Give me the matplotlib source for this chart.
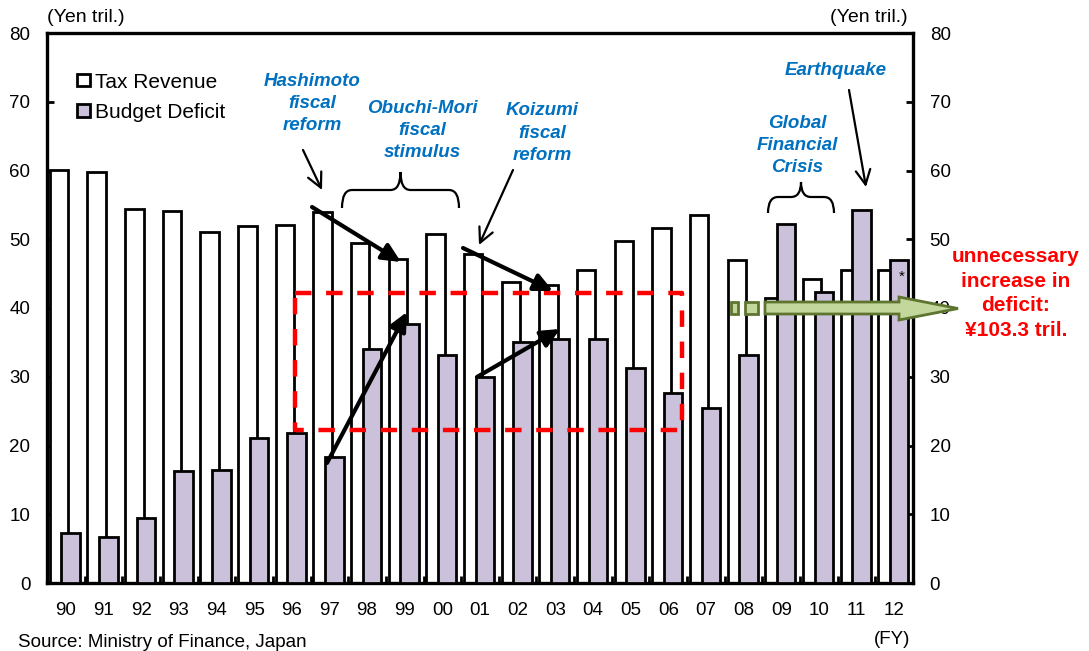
import matplotlib
matplotlib.use('Agg')
import matplotlib.pyplot as plt
import numpy as np
import matplotlib.transforms as mtrans
from matplotlib.patches import Rectangle, Polygon, PathPatch
from matplotlib.path import Path
from matplotlib.lines import Line2D

plt.rcParams['font.family'] = ['Liberation Sans', 'DejaVu Sans']

# ---------------- data ----------------
years = ['90', '91', '92', '93', '94', '95', '96', '97', '98', '99', '00', '01',
         '02', '03', '04', '05', '06', '07', '08', '09', '10', '11', '12']
tax_revenue = [60.1, 59.8, 54.4, 54.1, 51.0, 51.9, 52.1, 53.9, 49.4, 47.2, 50.7, 47.9,
               43.8, 43.3, 45.6, 49.7, 51.7, 53.6, 47.0, 41.5, 44.2, 45.5, 45.5]
budget_deficit = [7.3, 6.7, 9.4, 16.3, 16.4, 21.1, 21.8, 18.4, 34.0, 37.7, 33.1, 29.9,
                  35.0, 35.5, 35.5, 31.3, 27.6, 25.5, 33.1, 52.2, 42.3, 54.3, 47.0]
y_ticks = [0, 10, 20, 30, 40, 50, 60, 70, 80]
series_names = ['Tax Revenue', 'Budget Deficit']

W, H = 1089, 651
fig = plt.figure(figsize=(W / 100, H / 100), dpi=100)
ax = fig.add_axes([47 / W, (H - 583) / H, 866 / W, 550 / H])

# pixel transform (origin top-left) for annotations
P = mtrans.Affine2D().scale(1 / W, -1 / H).translate(0, 1) + fig.transFigure

LAV = '#CCC1DA'
BLUE = '#0070C0'

x = np.arange(len(years))
ax.bar(x - 0.18, tax_revenue, width=0.49, color='white', edgecolor='black', lw=2.0, zorder=2)
ax.bar(x + 0.13, budget_deficit, width=0.49, color=LAV, edgecolor='black', lw=2.0, zorder=3)

ax.set_xlim(-0.5, len(years) - 0.5)
ax.set_ylim(0, 80)
ax.set_yticks(y_ticks)
ax.tick_params(axis='y', direction='in', length=5, width=2, left=True, right=True,
               labelleft=True, labelright=True, labelsize=13.5, pad=12)
ax.set_xticks(np.arange(0.5, len(years) - 1, 1))
ax.tick_params(axis='x', which='major', direction='in', length=5, width=2, labelbottom=False)
ax.set_xticks(x, minor=True)
ax.set_xticklabels(years, minor=True)
ax.tick_params(axis='x', which='minor', length=0, labelsize=13.5, pad=14)
for s in ax.spines.values():
    s.set_linewidth(2.4)

# ---------------- legend (manual) ----------------
fig.add_artist(Rectangle((77, 74), 13, 12, transform=P, facecolor='white', edgecolor='black', lw=2))
fig.add_artist(Rectangle((77, 104), 13, 12.5, transform=P, facecolor=LAV, edgecolor='black', lw=2))
fig.text(95, 88, series_names[0], transform=P, fontsize=15, va='baseline', ha='left')
fig.text(95, 118, series_names[1], transform=P, fontsize=15, va='baseline', ha='left')

# ---------------- axis captions ----------------
fig.text(47, 22, '(Yen tril.)', transform=P, fontsize=14, va='baseline', ha='left')
fig.text(908, 22, '(Yen tril.)', transform=P, fontsize=14, va='baseline', ha='right')
fig.text(910, 644, '(FY)', transform=P, fontsize=13.5, va='baseline', ha='right')
fig.text(18, 647, 'Source: Ministry of Finance, Japan', transform=P, fontsize=13.5, va='baseline', ha='left')

# ---------------- red dashed box ----------------
ax.add_line(Line2D([295, 682, 682, 295, 295], [293, 293, 430, 430, 293], transform=P,
                   color='#FF0000', lw=3.2, linestyle=(0, (3.7, 3.3)), dash_capstyle='butt',
                   zorder=5, clip_on=False))

# ---------------- arrows ----------------
def arrow(p0, p1, thick=True):
    if thick:
        props = dict(arrowstyle='-|>,head_length=0.8,head_width=0.38', lw=3.0, color='black',
                     shrinkA=0, shrinkB=0, mutation_scale=14)
    else:
        props = dict(arrowstyle='->,head_length=0.7,head_width=0.35', lw=1.6, color='black',
                     shrinkA=0, shrinkB=0, mutation_scale=15)
    a = ax.annotate('', xy=p1, xytext=p0, xycoords=P, textcoords=P, arrowprops=props,
                    annotation_clip=False)
    a.set_zorder(6)

arrow((312, 207), (401, 262))
arrow((327, 463), (407, 312))
arrow((463, 248), (553, 291))
arrow((477, 377), (560, 329))
arrow((303, 150), (322, 190), thick=False)
arrow((513, 170), (479, 245), thick=False)
arrow((849, 90), (866, 187), thick=False)

# ---------------- braces ----------------
def brace(x0, x1, yb, ym, yt, r=10):
    xc = (x0 + x1) / 2
    verts = [(x0, yb), (x0, ym), (x0 + r, ym), (xc - r, ym), (xc, ym), (xc, yt),
             (xc, ym), (xc + r, ym), (x1 - r, ym), (x1, ym), (x1, yb)]
    codes = [Path.MOVETO, Path.CURVE3, Path.CURVE3, Path.LINETO, Path.CURVE3, Path.CURVE3,
             Path.CURVE3, Path.CURVE3, Path.LINETO, Path.CURVE3, Path.CURVE3]
    fig.add_artist(PathPatch(Path(verts, codes), transform=P, fill=False, lw=1.6,
                             edgecolor='black'))

brace(342, 459, 208, 190, 172)
brace(768, 834, 213, 197, 182)

# ---------------- blue labels ----------------
def label(cx, lines, baselines, **kw):
    for t, yb in zip(lines, baselines):
        fig.text(cx, yb, t, transform=P, ha='center', va='baseline', **kw)

bkw = dict(color=BLUE, fontsize=13.5, fontweight='bold', fontstyle='italic')
label(312, ['Hashimoto', 'fiscal', 'reform'], [86.5, 108.5, 130.5], **bkw)
label(422, ['Obuchi-Mori', 'fiscal', 'stimulus'], [113, 135, 157], **bkw)
label(542, ['Koizumi', 'fiscal', 'reform'], [115, 138, 160], **bkw)
label(836, ['Earthquake'], [75], **bkw)
label(797, ['Global', 'Financial', 'Crisis'], [128, 150, 172], **bkw)

# ---------------- green arrow ----------------
GF, GE = '#C3D69B', '#5E7530'
fig.add_artist(Rectangle((731, 302), 7, 12, transform=P, facecolor=GF, edgecolor=GE, lw=2, zorder=7))
fig.add_artist(Rectangle((745, 302), 13, 12, transform=P, facecolor=GF, edgecolor=GE, lw=2, zorder=7))
fig.add_artist(Polygon([(765, 302), (899, 302), (899, 297), (958, 308.5), (899, 320),
                        (899, 314), (765, 314)], closed=True, transform=P,
                       facecolor=GF, edgecolor=GE, lw=2, zorder=7))

fig.text(902, 281, '*', transform=P, fontsize=11, ha='center', va='baseline')

# ---------------- red text ----------------
label(1016, ['unnecessary', 'increase in', 'deficit:', '¥103.3 tril.'],
      [262, 287, 311, 336], color='#FF0000', fontsize=15, fontweight='bold')

fig.savefig('out.png', dpi=100)
